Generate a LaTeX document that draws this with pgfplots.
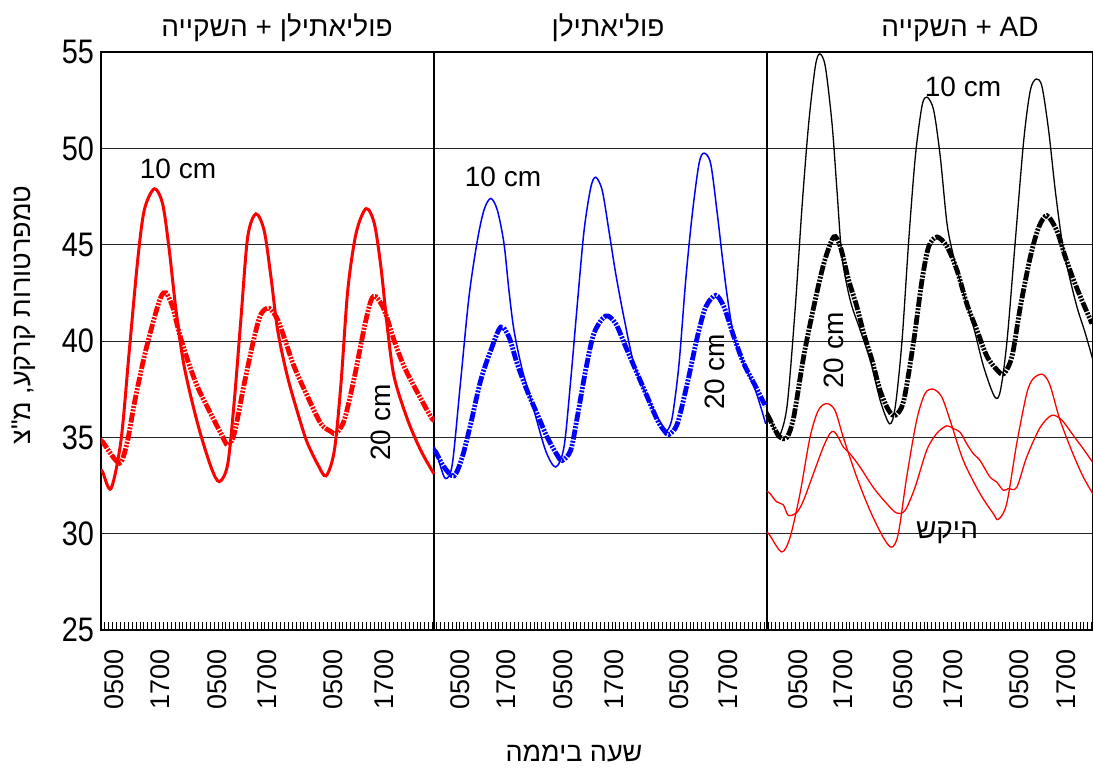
\documentclass[border=0pt]{standalone}
\usepackage{fontspec}
\setmainfont{Liberation Sans}
\newfontfamily\hebfont[Script=Hebrew]{Liberation Sans}
\usepackage{graphicx}
\usepackage{pgfplots}
\pgfplotsset{compat=1.18}
\TeXXeTstate=1
\newcommand\heb[1]{{\hebfont\beginR #1\endR}}
\tikzset{dd/.style={line width=2.4pt, dash pattern=on 5pt off 0.7pt on 1pt off 0.7pt on 1pt off 0.7pt}}
\begin{document}
\begin{tikzpicture}
\begin{axis}[
 at={(0,0)}, anchor=south west,
 scale only axis, width=496pt, height=289pt,
 xmin=101, xmax=1093, ymin=25, ymax=55,
 axis line style={line width=0.9pt},
 /pgf/number format/assume math mode=true,
 ytick={25,30,...,55},
 yticklabel={\scalebox{0.85}[1]{\pgfmathprintnumber{\tick}}},
 yticklabel style={font=\fontsize{17}{17}\selectfont},
 ymajorgrids, major grid style={black!85, line width=0.5pt},
 xtick={114,160,217,267,333,384,460,506,563,614,679,728,798,843,903,953,1019,1066},
 xticklabels={0500,1700,0500,1700,0500,1700,0500,1700,0500,1700,0500,1700,0500,1700,0500,1700,0500,1700},
 xticklabel style={font=\fontsize{13.5}{13.5}\selectfont, rotate=90, anchor=east, xshift=-6pt},
 major tick length=0pt,
 minor xtick={101,104.9,...,1093},
 minor tick length=4pt,
 minor tick style={black, line width=0.4pt},
 tick align=inside,
 xtick pos=left,
 ytick pos=left,
 clip=true,
]
% separators
\draw[line width=1pt] (axis cs:434,25) -- (axis cs:434,55);
\draw[line width=1pt] (axis cs:767,25) -- (axis cs:767,55);

% Panel 1: red
\addplot[red, line width=1.5pt, smooth, tension=0.5] coordinates {
(101,33.3)(102.7,33.2)(111,32.34)(121,34.84)(129.3,39.5)(137.7,44.2)(144.3,46.8)(154.3,47.9)(162.7,47.1)(169.3,44.7)(176,41.6)(184.3,38.65)(197.7,35.7)(211,33.46)(219.3,32.7)(227.7,33.6)(234.3,36.9)(241,41.2)(247.7,45.4)(256,46.6)(264.3,45.7)(271,43.3)(277.7,40.55)(287.7,38.1)(301,35.7)(307.7,34.67)(317.7,33.6)(326,33.0)(334.3,34.3)(341,37.8)(347.7,42.6)(356,45.57)(366,46.87)(374.3,46.1)(381,43.8)(387.7,40.55)(394.3,38.1)(407.7,35.9)(421,34.3)(434,33.1)};
\addplot[red, dd, smooth, tension=0.5] coordinates {
(101,34.8)(102.7,34.76)(114.3,33.9)(121,33.7)(127.7,34.85)(134.3,36.75)(144.3,39.2)(154.3,41.2)(161,42.3)(166,42.5)(172.7,41.76)(179.3,40.4)(187.7,39.0)(197.7,37.6)(211,36.2)(221,35.2)(227.7,34.6)(234.3,35.2)(244.3,37.8)(254.3,40.2)(261,41.4)(269.3,41.7)(277.7,41.1)(286,39.9)(294.3,38.65)(307.7,37.1)(321,35.7)(331,35.3)(336,35.2)(344.3,35.9)(354.3,38.1)(364.3,40.7)(371,42.1)(376,42.3)(384.3,41.6)(394.3,40.0)(404.3,38.65)(417.7,37.3)(431,36.05)(434,35.9)};

% Panel 2: blue
\addplot[blue, line width=0.75pt, smooth, tension=0.5] coordinates {
(434,34.5)(435.7,34.33)(440.7,33.46)(445.7,32.86)(452.3,33.6)(460.7,37.96)(469,42.3)(477.3,45.2)(484,46.8)(490.7,47.4)(497.3,46.8)(504,45.05)(509,42.6)(514,40.55)(522.3,38.5)(534,36.4)(545.7,34.3)(555.7,33.46)(564,34.5)(570.7,37.96)(577.3,41.9)(584,45.7)(590.7,47.95)(595.7,48.5)(602.3,47.8)(609,45.7)(615.7,43.5)(624,41.2)(634,38.8)(647.3,37.1)(657.3,36.05)(664,35.5)(667.3,35.36)(672.3,36.05)(679,38.8)(685.7,43.15)(692.3,46.6)(699,49.2)(704,49.75)(710.7,49.2)(717.3,46.6)(722.3,44.36)(727.3,42.3)(734,40.2)(744,38.8)(755.7,37.4)(765.7,35.7)};
\addplot[blue, dd, smooth, tension=0.5] coordinates {
(434,34.3)(435.7,34.24)(444,33.46)(454,33.0)(462.3,33.98)(470.7,35.7)(480.7,37.96)(490.7,39.5)(500.7,40.72)(509,40.2)(517.3,38.8)(527.3,37.4)(537.3,36.2)(547.3,35.0)(557.3,34.07)(562.3,33.8)(570.7,34.33)(577.3,36.05)(585.7,38.5)(594,40.4)(605.7,41.3)(615.7,40.9)(625.7,39.7)(637.3,38.3)(647.3,37.1)(657.3,35.9)(664,35.36)(669,35.15)(677.3,35.7)(687.3,37.8)(697.3,40.2)(705.7,41.76)(715.7,42.37)(724,41.76)(734,40.2)(744,38.8)(754,37.8)(765.7,36.6)};

% Panel 3: red thin (bare soil)
\addplot[red, line width=0.65pt, smooth, tension=0.5] coordinates {
(767,30.1)(770,29.9)(781.7,29.05)(790,29.8)(800,32.08)(810,35.0)(818.3,36.4)(826.7,36.75)(835,36.4)(843.3,35.0)(856.7,32.94)(870,31.2)(883.3,29.8)(891.7,29.3)(898.3,30.0)(906.7,32.94)(916.7,35.9)(925,37.27)(933.3,37.5)(941.7,37.1)(950,35.9)(963.3,33.8)(980,32.08)(993.3,31.04)(998.3,30.74)(1006.7,31.56)(1016.7,34.67)(1026.7,37.27)(1033.3,38.05)(1042.7,38.27)(1050,37.7)(1060,35.9)(1073.3,34.1)(1083.3,32.94)(1092.7,32.08)};
\addplot[red, line width=0.65pt, smooth, tension=0.5] coordinates {
(767,32.2)(770,32.08)(776.7,31.65)(783.3,31.5)(788.3,30.95)(796.7,31.1)(803.3,31.7)(813.3,33.1)(823.3,34.5)(830,35.2)(834,35.3)(838.3,35.0)(843.3,34.5)(850,34.15)(860,33.46)(873.3,32.4)(886.7,31.56)(896.7,31.07)(905,31.2)(915,32.4)(926.7,34.33)(936.7,35.2)(946.7,35.6)(953.3,35.45)(960,35.27)(966.7,34.67)(973.3,34.15)(980,33.8)(990,32.94)(996.7,32.68)(1003.3,32.25)(1008.3,32.34)(1016.7,32.4)(1026.7,33.98)(1040,35.5)(1051.7,36.14)(1061.7,35.9)(1073.3,35.1)(1083.3,34.4)(1092.7,33.7)};
% Panel 3: black
\addplot[black, line width=0.65pt, smooth, tension=0.5] coordinates {
(767,36.4)(768.7,36.2)(773.7,35.5)(778.7,35.0)(787,36.6)(795.3,41.76)(802,46.95)(808.7,51.3)(815.3,54.25)(819.7,54.9)(825.3,54.25)(832,51.3)(837,47.8)(842,44.36)(850.3,42.1)(860.3,40.55)(870.3,39.0)(880.3,36.9)(889.7,35.7)(895.3,36.6)(902,40.0)(908.7,45.2)(915.3,49.55)(922,52.2)(927,52.66)(933.7,51.97)(940.3,49.55)(947,46.1)(953.7,44.36)(963.7,42.46)(973.7,40.7)(983.7,38.65)(994.7,37.1)(1000.3,37.4)(1007,40.0)(1015.3,45.2)(1023.7,50.4)(1030.3,53.0)(1036.3,53.6)(1042,53.2)(1048.7,50.9)(1055.3,47.8)(1062,45.2)(1068.7,43.5)(1077,41.76)(1085.3,40.4)(1093,39.0)};
\addplot[black, dd, smooth, tension=0.5] coordinates {
(767,36.2)(768.7,36.05)(775.3,35.36)(780.3,35.0)(787,35.0)(793.7,36.05)(803.7,39.2)(813.7,41.76)(823.7,44.0)(833.7,45.4)(840.3,44.9)(848.7,43.15)(857,41.76)(863.7,40.4)(872,39.0)(880.3,37.4)(888.7,36.4)(895.3,36.14)(903.7,36.9)(913.7,40.0)(922,43.15)(928.7,44.9)(937,45.4)(947,44.9)(957,43.67)(967,41.9)(977,40.55)(987,39.2)(997,38.5)(1003.7,38.3)(1012,39.2)(1020.3,41.76)(1030.3,44.36)(1038.7,45.9)(1047,46.5)(1057,45.7)(1065.3,44.36)(1073.7,43.15)(1082,42.1)(1092,40.9)};

% in-plot labels
\node[font=\fontsize{14}{14}\selectfont] at (axis cs:178,48.96) {10 cm};
\node[font=\fontsize{14}{14}\selectfont, rotate=90] at (axis cs:381,35.77) {20 cm};
\node[font=\fontsize{14}{14}\selectfont] at (axis cs:503,48.5) {10 cm};
\node[font=\fontsize{14}{14}\selectfont, rotate=90] at (axis cs:715,38.4) {20 cm};
\node[font=\fontsize{14}{14}\selectfont] at (axis cs:963,53.2) {10 cm};
\node[font=\fontsize{14}{14}\selectfont, rotate=90] at (axis cs:834,39.5) {20 cm};
\node[font=\fontsize{14}{14}\selectfont] at (axis cs:947,30.07) {\heb{היקש}};
\end{axis}
% titles and axis labels
\node[anchor=base, font=\fontsize{14}{14}\selectfont] at (88pt,296.5pt) {\heb{פוליאתילן + השקייה}};
\node[anchor=base, font=\fontsize{14}{14}\selectfont] at (253.5pt,296.5pt) {\heb{פוליאתילן}};
\node[anchor=base, font=\fontsize{14}{14}\selectfont] at (429.5pt,296.5pt) {\heb{AD + השקייה}};
\node[anchor=base, font=\fontsize{13.5}{13.5}\selectfont] at (236.5pt,-65.5pt) {\heb{שעה ביממה}};
\node[rotate=90, font=\fontsize{13.5}{13.5}\selectfont] at (-38.5pt,157.5pt) {\heb{טמפרטורות קרקע, מ"צ}};
\pgfresetboundingbox
\path[use as bounding box] (-50.5pt,-68.5pt) rectangle (496pt,315pt);
\end{tikzpicture}
\end{document}
